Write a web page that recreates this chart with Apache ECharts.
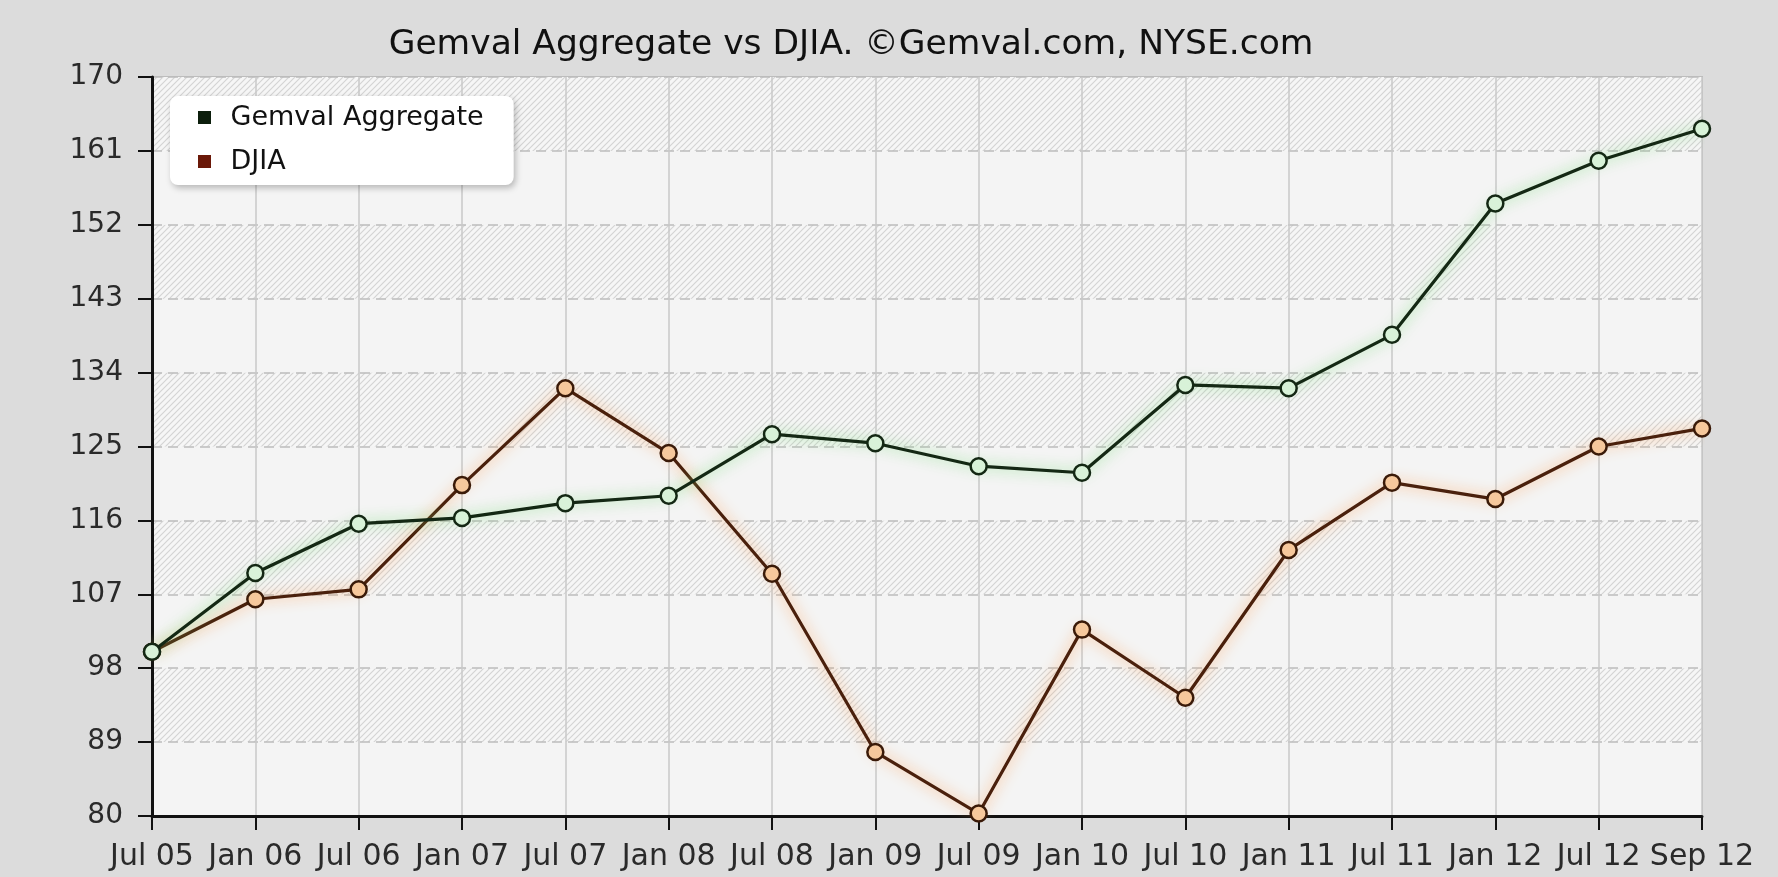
<!DOCTYPE html>
<html>
<head>
<meta charset="utf-8">
<script src="https://cdn.jsdelivr.net/npm/echarts@6/dist/echarts.min.js"></script>
<style>
  html, body { margin: 0; padding: 0; background: #dcdcdc; }
  #container1 { width: 1778px; height: 877px; }
</style>
</head>
<body>
<div id="container1"></div>
<script>
var months = ['Jul 05', 'Jan 06', 'Jul 06', 'Jan 07', 'Jul 07', 'Jan 08', 'Jul 08', 'Jan 09',
	'Jul 09', 'Jan 10', 'Jul 10', 'Jan 11', 'Jul 11', 'Jan 12', 'Jul 12', 'Sep 12'];
var gemval = [100, 109.6, 115.6, 116.3, 118.1, 119.0, 126.5, 125.4,
	122.6, 121.8, 132.5, 132.1, 138.6, 154.6, 159.8, 163.7];
var djia = [100, 106.4, 107.6, 120.3, 132.1, 124.2, 109.5, 87.8,
	80.3, 102.7, 94.4, 112.4, 120.6, 118.6, 125.0, 127.2];
var seriesNames = ['Gemval Aggregate', 'DJIA'];

// diagonal hatch for every second band
function makeHatch() {
	var c = document.createElement('canvas');
	c.width = 6;
	c.height = 6;
	var ctx = c.getContext('2d');
	ctx.fillStyle = '#f6f6f6';
	ctx.fillRect(0, 0, 6, 6);
	ctx.strokeStyle = '#d4d4d4';
	ctx.lineWidth = 1.2;
	ctx.beginPath();
	ctx.moveTo(-1, 7);
	ctx.lineTo(7, -1);
	ctx.moveTo(-4, 4);
	ctx.lineTo(4, -4);
	ctx.moveTo(2, 10);
	ctx.lineTo(10, 2);
	ctx.stroke();
	return c;
}

var font = 'DejaVu Sans';
var square = 'path://M0,0L10,0L10,10L0,10Z';
var dom = document.getElementById('container1');
var myChart = echarts.init(dom);
myChart.setOption({
	backgroundColor : '#dcdcdc',
	animation : false,
	title : {
		text : 'Gemval Aggregate vs DJIA. \u00A9Gemval.com, NYSE.com',
		left : 851,
		textAlign : 'center',
		top : 28,
		padding : 0,
		textStyle : {
			fontFamily : font,
			fontSize : 34.5,
			fontWeight : 'normal',
			color : '#111'
		}
	},
	legend : {
		orient : 'vertical',
		left : 170,
		top : 96,
		padding : [8, 30, 10, 28],
		itemGap : 17,
		itemWidth : 42,
		itemHeight : 13,
		icon : square,
		backgroundColor : '#ffffff',
		borderRadius : 8,
		shadowBlur : 6,
		shadowOffsetX : 2,
		shadowOffsetY : 3,
		shadowColor : 'rgba(0,0,0,0.25)',
		textStyle : {
			fontFamily : font,
			fontSize : 27,
			color : '#111'
		},
		data : [ {
			name : seriesNames[0],
			itemStyle : { color : '#0c1e0c', borderWidth : 0 }
		}, {
			name : seriesNames[1],
			itemStyle : { color : '#6a1808', borderWidth : 0 }
		} ]
	},
	grid : {
		left : 152,
		right : 76,
		top : 77,
		bottom : 61,
		show : true,
		backgroundColor : '#f4f4f4',
		borderColor : '#bdbdbd',
		borderWidth : 2
	},
	xAxis : {
		type : 'category',
		boundaryGap : false,
		data : months,
		axisLine : { lineStyle : { color : '#111', width : 3 } },
		axisTick : { show : true, length : 14, interval : 0, lineStyle : { color : '#111', width : 2 } },
		axisLabel : {
			interval : 0,
			margin : 26,
			fontFamily : font,
			fontSize : 30,
			color : '#2a2a2a'
		},
		splitLine : { show : true, interval : 0, lineStyle : { color : '#c9c9c9', width : 1.5 } }
	},
	yAxis : {
		type : 'value',
		min : 80,
		max : 170,
		interval : 9,
		axisLine : { show : true, lineStyle : { color : '#111', width : 3 } },
		axisTick : { show : true, length : 14, lineStyle : { color : '#111', width : 2 } },
		axisLabel : {
			margin : 29,
			fontFamily : font,
			fontSize : 28,
			color : '#2a2a2a'
		},
		splitLine : { show : true, lineStyle : { color : '#bcbcbc', width : 1.5, type : [10, 6] } },
		splitArea : {
			show : true,
			areaStyle : {
				color : [ '#f4f4f4', { image : makeHatch(), repeat : 'repeat' } ]
			}
		}
	},
	series : [ {
		name : seriesNames[0],
		type : 'line',
		data : gemval,
		symbol : 'circle',
		symbolSize : 16,
		lineStyle : {
			color : '#142814',
			width : 3.2,
			shadowBlur : 14,
			shadowColor : 'rgba(110,220,110,0.85)'
		},
		itemStyle : {
			color : '#d8f2d8',
			borderColor : '#142814',
			borderWidth : 2.5
		},
		z : 3
	}, {
		name : seriesNames[1],
		type : 'line',
		data : djia,
		symbol : 'circle',
		symbolSize : 16,
		lineStyle : {
			color : '#4a200c',
			width : 3.2,
			shadowBlur : 14,
			shadowColor : 'rgba(255,150,70,0.85)'
		},
		itemStyle : {
			color : '#f6c89c',
			borderColor : '#3a1a08',
			borderWidth : 2.5
		},
		z : 2
	} ]
});
</script>
</body>
</html>
